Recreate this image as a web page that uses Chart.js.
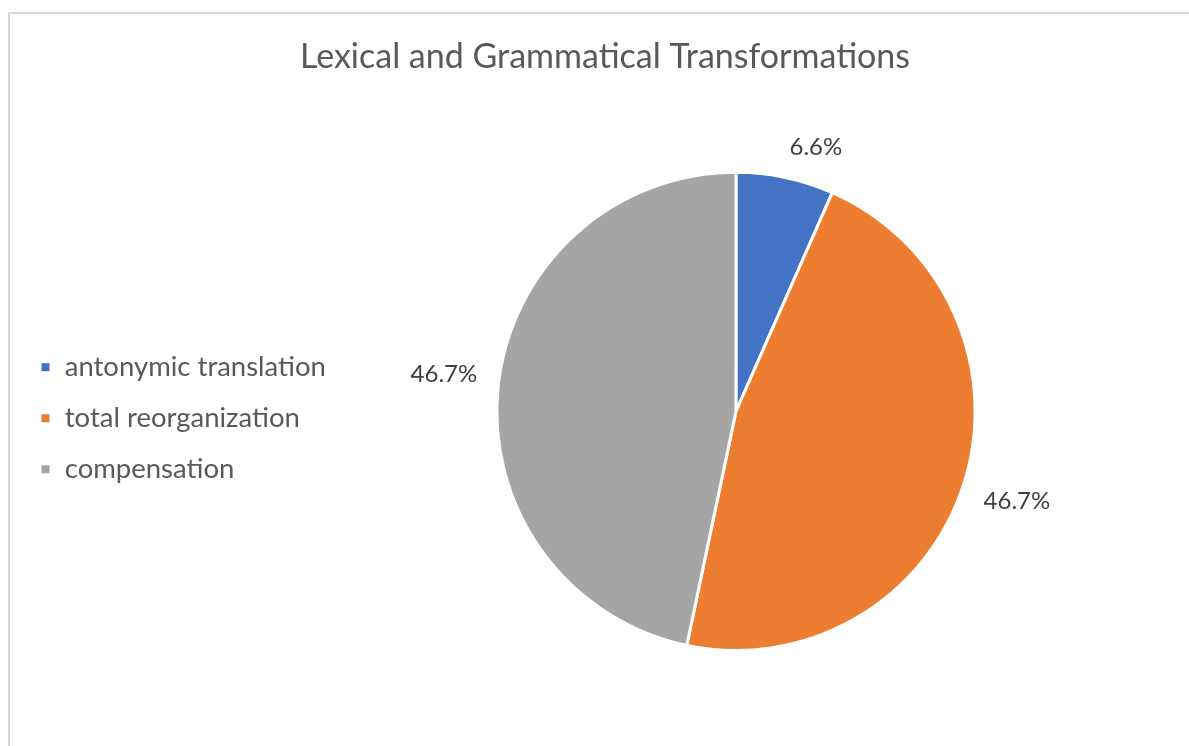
<!DOCTYPE html>
<html>
<head>
<meta charset="utf-8">
<script src="https://cdn.jsdelivr.net/npm/chart.js@4/dist/chart.umd.min.js"></script>
<style>
  html, body { margin: 0; padding: 0; background: #fff; overflow: hidden; }
  #frame { position: absolute; left: 8px; top: 12px; width: 1200px; height: 760px; border: 2px solid #dadada; }
  #pie { position: absolute; left: 0; top: 0; }
</style>
</head>
<body>
<div id="frame"></div>
<canvas id="pie" width="1210" height="746"></canvas>
<script>
// === Data ===
const categories = ["antonymic translation", "total reorganization", "compensation"];
const shares = [6.6, 46.7, 46.7];
const sliceColors = ["#4472C4", "#ED7D31", "#A5A5A5"];

// === Labels outside the slices (Excel "best fit" look) ===
// the label box corner nearest the pie sits on the slice's middle ray
const outsideLabels = {
    id: "outsideLabels",
    afterDatasetsDraw(chart) {
        const ctx = chart.ctx;
        const meta = chart.getDatasetMeta(0);
        ctx.save();
        ctx.font = "24px Lato";
        ctx.fillStyle = "#404040";
        ctx.textAlign = "center";
        ctx.textBaseline = "middle";
        meta.data.forEach((arc, i) => {
            const p = arc.getProps(["x", "y", "startAngle", "endAngle", "outerRadius"], true);
            const mid = (p.startAngle + p.endAngle) / 2;
            const txt = shares[i].toFixed(1) + "%";
            const w = ctx.measureText(txt).width, h = 20;
            const c = Math.cos(mid), s = Math.sin(mid);
            const r = p.outerRadius + 21;
            ctx.fillText(txt, p.x + c * r + Math.sign(c) * w / 2, p.y + s * r + Math.sign(s) * h / 2);
        });
        ctx.restore();
    }
};

document.addEventListener("DOMContentLoaded", () => {
    const ctx = document.getElementById("pie").getContext("2d");
    new Chart(ctx, {
        type: "pie",
        data: {
            labels: categories,
            datasets: [{ data: shares, backgroundColor: sliceColors, borderColor: "#ffffff", borderWidth: 3 }]
        },
        options: {
            responsive: false,
            animation: false,
            layout: { padding: { left: 16.5, right: 16.5, top: 0, bottom: 94 } },
            plugins: {
                title: {
                    display: true,
                    text: "Lexical and Grammatical Transformations",
                    color: "#595959",
                    font: { family: "Lato", size: 34, weight: "normal" },
                    padding: { top: 37, bottom: 93 }
                },
                // empty spacer on the right so the pie sits right of the title centre
                subtitle: {
                    display: true,
                    position: "right",
                    fullSize: false,
                    text: " ",
                    color: "rgba(0,0,0,0)",
                    font: { size: 10 },
                    padding: { top: 45.5, bottom: 0 }
                },
                legend: {
                    position: "left",
                    align: "start",
                    maxWidth: 400,
                    title: { display: true, text: " ", font: { size: 10 }, padding: { top: 318, bottom: 0 } },
                    labels: {
                        color: "#595959",
                        font: { family: "Lato", size: 27.5 },
                        boxWidth: 11, boxHeight: 11,
                        padding: 23.5
                    }
                },
                tooltip: { enabled: false }
            }
        },
        plugins: [outsideLabels]
    });
});
</script>
</body>
</html>
